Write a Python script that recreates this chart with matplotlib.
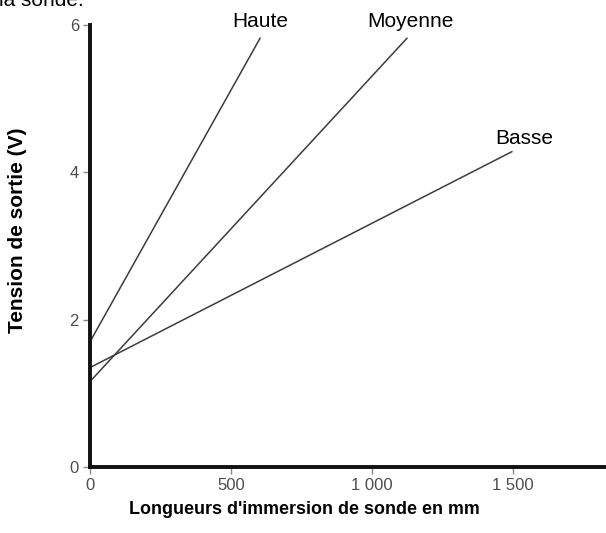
import numpy as np
import matplotlib.pyplot as plt

plt.rcParams['font.family'] = ['Liberation Sans', 'DejaVu Sans']

# immersion length (mm) -> output voltage (V), start/end of each line
series = ['Haute', 'Moyenne', 'Basse']
x_start = [0, 0, 0]
x_end = [603, 1124, 1496]
v_start = [1.70, 1.16, 1.35]
v_end = [5.82, 5.82, 4.28]
label_pos = [(605, 5.97), (1137, 5.97), (1540, 4.38)]

x_ticks = [0, 500, 1000, 1500]
x_ticklabels = ['0', '500', '1 000', '1 500']
y_ticks = [0, 2, 4, 6]

W, H = 606, 533
fig = plt.figure(figsize=(W / 100, H / 100), dpi=100)
# axes box in pixels: left 90, right 606, y=0 at 467, y=6 at 25
ax = fig.add_axes([90 / W, (H - 467) / H, (W - 90) / W, (467 - 25) / H])

for name, x0, x1, y0, y1, pos in zip(series, x_start, x_end, v_start, v_end, label_pos):
    ax.plot([x0, x1], [y0, y1], color='#3c3c3c', lw=1.1)
    ax.text(pos[0], pos[1], name, ha='center', va='baseline', fontsize=15,
            clip_on=False)

ax.set_xlim(0, 1830)
ax.set_ylim(0, 6)
ax.set_xticks(x_ticks)
ax.set_xticklabels(x_ticklabels)
ax.set_yticks(y_ticks)
ax.tick_params(colors='#888888', labelcolor='#4d4d4d', labelsize=12,
               length=5, width=1, pad=3)

for s in ['top', 'right']:
    ax.spines[s].set_visible(False)
for s in ['left', 'bottom']:
    ax.spines[s].set_linewidth(2.8)
    ax.spines[s].set_color('#111111')

fig.text(304 / W, 1 - 509 / H, "Longueurs d'immersion de sonde en mm",
         fontsize=12.9, fontweight='bold', ha='center', va='center')
fig.text(18 / W, 1 - 230 / H, 'Tension de sortie (V)', fontsize=15,
         fontweight='bold', rotation=90, ha='center', va='center')

fig.text(-1 / W, 1 - 6 / H, 'la sonde.', fontsize=15, va='baseline', ha='left')

fig.savefig('out.png', dpi=100)
